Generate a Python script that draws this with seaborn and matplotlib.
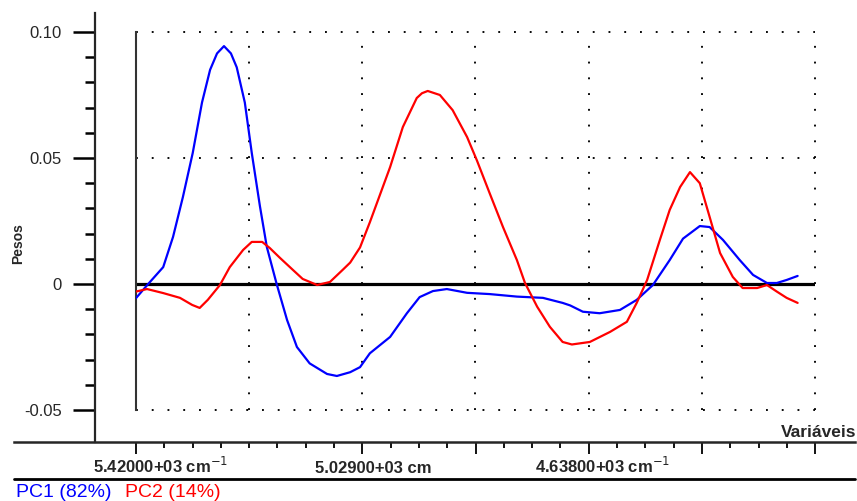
import matplotlib
matplotlib.use("Agg")
import matplotlib.pyplot as plt
from matplotlib.lines import Line2D
from matplotlib.ticker import FixedLocator, NullFormatter
import numpy as np
import pandas as pd
import seaborn as sns

sns.set_style("white")
plt.rcParams["font.family"] = ["Liberation Sans", "DejaVu Sans"]

# Loadings (pesos) of the first two principal components over the spectral variables
pc1_wn = [5420, 5399, 5373, 5356, 5339, 5322, 5306, 5292, 5280, 5268, 5256, 5246,
          5232, 5220, 5206, 5194, 5177, 5159, 5142, 5120, 5090, 5073, 5050, 5033,
          5016, 4981, 4952, 4930, 4907, 4883, 4848, 4809, 4762, 4717, 4683, 4670,
          4648, 4619, 4584, 4555, 4527, 4498, 4475, 4446, 4429, 4406, 4377, 4354,
          4330, 4313, 4296, 4277]
pc1 = [-0.0056, 0.0, 0.0067, 0.0187, 0.0345, 0.052, 0.072, 0.085, 0.0915, 0.0944,
       0.0915, 0.086, 0.072, 0.052, 0.031, 0.0147, 0.0, -0.0143, -0.025, -0.0315,
       -0.0357, -0.0365, -0.035, -0.033, -0.0275, -0.021, -0.0116, -0.0052, -0.0028,
       -0.002, -0.0035, -0.004, -0.005, -0.0055, -0.0075, -0.0085, -0.011, -0.0116,
       -0.0103, -0.0063, -0.0004, 0.0095, 0.018, 0.023, 0.0226, 0.0175, 0.0095,
       0.0036, 0.0004, 0.0004, 0.0016, 0.0032]

pc2_wn = [5420, 5401, 5373, 5344, 5323, 5310, 5296, 5275, 5258, 5235, 5220, 5202,
          5189, 5171, 5149, 5132, 5107, 5085, 5063, 5050, 5033, 5016, 5004, 4981, 4959,
          4935, 4926, 4916, 4895, 4873, 4848, 4831, 4809, 4786, 4762, 4748, 4727,
          4705, 4683, 4667, 4636, 4601, 4572, 4555, 4537, 4515, 4498, 4480, 4463,
          4446, 4429, 4411, 4389, 4372, 4347, 4330, 4313, 4296, 4277]
pc2 = [-0.003, -0.002, -0.0036, -0.0055, -0.0083, -0.0095, -0.0063, -0.0004, 0.0067,
       0.0135, 0.0167, 0.0167, 0.0143, 0.0103, 0.0056, 0.002, -0.0004, 0.0008, 0.0056,
       0.0085, 0.0145, 0.0245, 0.032, 0.0464, 0.0623, 0.0738, 0.0757, 0.0766, 0.075, 0.069,
       0.0583, 0.049, 0.036, 0.0226, 0.0095, 0.0004, -0.009, -0.017, -0.023, -0.024,
       -0.023, -0.019, -0.015, -0.0075, 0.0016, 0.0175, 0.0294, 0.0385, 0.0444, 0.040,
       0.0266, 0.0123, 0.0028, -0.0016, -0.0016, -0.0004, -0.003, -0.0055, -0.0075]

components = ["PC1", "PC2"]
variance = [82, 14]
colors = {"PC1": "#0000ff", "PC2": "#ff0000"}

ytick_vals = [-0.05, 0.0, 0.05, 0.10]
ytick_labels = ["-0.05", "0", "0.05", "0.10"]
xtick_labels = ["5.42000+03 cm$^{-1}$", "5.02900+03 cm", "4.63800+03 cm$^{-1}$"]

df = pd.concat([
    pd.DataFrame({"wn": pc1_wn, "peso": pc1, "comp": "PC1"}),
    pd.DataFrame({"wn": pc2_wn, "peso": pc2, "comp": "PC2"}),
], ignore_index=True)

W, H = 857, 501
fig = plt.figure(figsize=(W / 100, H / 100), dpi=100)
fig.patch.set_facecolor("white")


def fx(px):
    return px / W


def fy(py):
    return 1 - py / H


# spectral axis: 5420 cm-1 at the left, grid step of 195.5 cm-1
wn0 = 5420.0
step = 195.5
grid_px = 113.2
cm_per_px = step / grid_px
wn_end = wn0 - 6 * step

# ---- main data panel ----
ax = fig.add_axes([fx(136), fy(410), fx(815) - fx(136), fy(32) - fy(410)])
ax.set_facecolor("white")
ax.set_xlim(wn0, wn_end)
ax.set_ylim(-0.05, 0.10)
for s in ["top", "right", "bottom"]:
    ax.spines[s].set_visible(False)
ax.spines["left"].set_color("#333333")
ax.spines["left"].set_linewidth(1.5)
ax.set_xticks([])
ax.set_yticks([])

dot = (0, (1, 7.4))
for yv in [0.10, 0.05, -0.05]:
    ax.axhline(yv, color="black", lw=1.35, ls=dot, clip_on=False, zorder=1)
for k in range(1, 7):
    ax.axvline(wn0 - k * step, color="black", lw=1.35, ls=dot, clip_on=False, zorder=1)
ax.axhline(0, color="black", lw=2.3, zorder=2)

sns.lineplot(data=df, x="wn", y="peso", hue="comp", palette=colors, sort=False,
             estimator=None, legend=False, lw=1.6, ax=ax, zorder=3)
ax.set_xlabel("")
ax.set_ylabel("")

# ---- left value ruler ----
axl = fig.add_axes([fx(95), fy(442), 0.0005, fy(13) - fy(442)])
axl.set_ylim((284 - 442) / 2520, (284 - 13) / 2520)
axl.set_xticks([])
for s in ["top", "right", "bottom"]:
    axl.spines[s].set_visible(False)
axl.spines["left"].set_linewidth(1.6)
axl.patch.set_alpha(0)
axl.yaxis.set_major_locator(FixedLocator(ytick_vals))
axl.set_yticklabels(ytick_labels, fontsize=12)
axl.yaxis.set_minor_locator(FixedLocator([v / 100 for v in range(-5, 11) if v % 5 != 0]))
axl.yaxis.set_minor_formatter(NullFormatter())
axl.tick_params(axis="y", which="major", left=True, direction="out", length=15.8,
                width=1.8, pad=8, color="black")
axl.tick_params(axis="y", which="minor", left=True, direction="out", length=7.2,
                width=1.8, color="black")

fig.text(fx(18.5), fy(244), "Pesos", rotation=90, ha="center", va="center",
         fontsize=10, fontweight="bold")

# ---- bottom variable ruler ----
axb = fig.add_axes([fx(14), fy(442), fx(855) - fx(14), 0.0005])
axb.set_xlim(wn0 + (136 - 14) * cm_per_px, wn0 - (855 - 136) * cm_per_px)
axb.set_yticks([])
for s in ["top", "right", "left"]:
    axb.spines[s].set_visible(False)
axb.spines["bottom"].set_linewidth(1.8)
axb.patch.set_alpha(0)
q = step / 4
major_k = [0, 8, 12, 16, 20, 24]
axb.xaxis.set_major_locator(FixedLocator([wn0 - k * q for k in major_k]))
axb.xaxis.set_minor_locator(FixedLocator([wn0 - k * q for k in range(25) if k not in major_k]))
axb.xaxis.set_major_formatter(NullFormatter())
axb.tick_params(axis="x", which="major", bottom=True, direction="out", length=8.6,
                width=1.3, color="black")
axb.tick_params(axis="x", which="minor", bottom=True, direction="out", length=4.3,
                width=1.3, color="black")

for px, lab in zip([93, 315, 535], xtick_labels):
    fig.text(fx(px), fy(473), lab, ha="left", va="baseline", fontsize=12, fontweight="bold")

fig.text(fx(856), fy(437), "Variáveis", ha="right", va="baseline", fontsize=12.5,
         fontweight="bold")

fig.add_artist(Line2D([fx(14), fx(855)], [fy(479), fy(479)], transform=fig.transFigure,
                      color="black", lw=2))

# ---- component legend ----
fig.text(fx(16), fy(497), f"{components[0]} ({variance[0]}%)", ha="left", va="baseline",
         fontsize=14, color=colors["PC1"])
fig.text(fx(125), fy(497), f"{components[1]} ({variance[1]}%)", ha="left", va="baseline",
         fontsize=14, color=colors["PC2"])

fig.savefig("out.png", dpi=100, facecolor="white")
